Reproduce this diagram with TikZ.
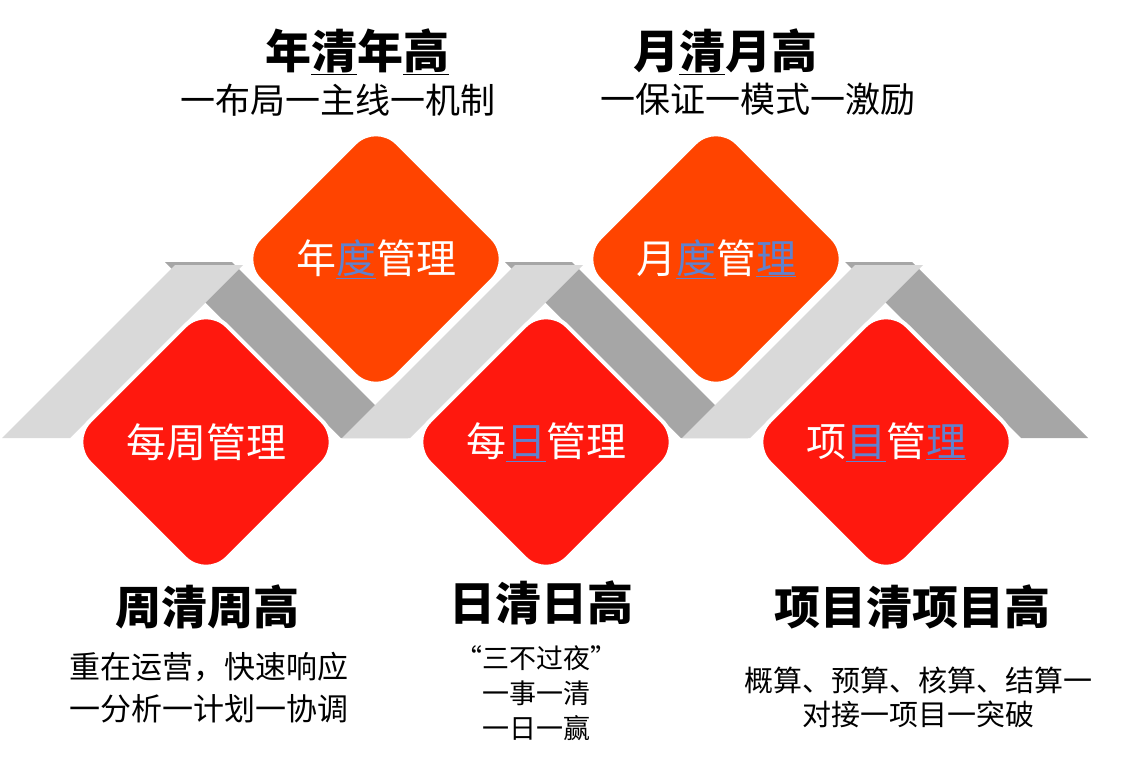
\documentclass[tikz,border=0pt]{standalone}
\usepackage{fontspec}
\newfontfamily\cjk{Noto Sans CJK SC}
\usetikzlibrary{shapes.geometric}

\definecolor{upfill}{RGB}{255,68,0}
\definecolor{lowfill}{RGB}{255,24,14}
\definecolor{bandlight}{RGB}{217,217,217}
\definecolor{banddark}{RGB}{166,166,166}
\definecolor{hlblue}{RGB}{96,130,206}
\newcommand{\hl}[1]{\textcolor{hlblue}{\underline{#1}}}

\begin{document}
\begin{tikzpicture}[
    x=1pt, y=-1pt,
    tile/.style={diamond, aspect=1, minimum width=276pt, minimum height=276pt,
                 inner sep=0pt, rounded corners=30pt, draw=white, line width=4pt,
                 text=white, font=\cjk\fontsize{40}{40}\selectfont},
    upper/.style={tile, fill=upfill},
    lower/.style={tile, fill=lowfill},
    title/.style={font=\cjk\bfseries\fontsize{46}{46}\selectfont},
    motto/.style={font=\cjk\fontsize{35}{35}\selectfont},
    note/.style={align=center, font=\cjk\fontsize{31}{42}\selectfont}
]
\useasboundingbox (0,0) rectangle (1138,764);

%% Nastri grigi
\foreach \x in {0,340,680} {
  \fill[banddark] (\x+165,262) -- (\x+232,262) -- (\x+408,438) -- (\x+341,438) -- cycle;
  \fill[bandlight] (\x+2,438) -- (\x+70,438) -- (\x+243,265) -- (\x+175,265) -- cycle;
}

%% Riquadri
\node[upper] (yearmgmt)  at (376,259) {年\hl{度}管理};
\node[upper] (monthmgmt) at (716,259) {月\hl{度}管\hl{理}};
\node[lower] (weekmgmt)  at (206,442) {每周管理};
\node[lower] (daymgmt)   at (546,442) {每\hl{日}管理};
\node[lower] (projmgmt)  at (886,442) {项\hl{目}管\hl{理}};

%% Titoli in alto
\node[title] (yeartitle)  at (357,52) {年\underline{清}年\underline{高}};
\node[motto] (yearmotto)  at (338,100) {一布局一主线一机制};
\node[title] (monthtitle) at (725,52) {月\underline{清}月高};
\node[motto] (monthmotto) at (758,99) {一保证一模式一激励};

%% Titoli in basso
\node[title] (weektitle) at (207,607) {周清周高};
\node[note]  (weeknote)  at (209,688) {重在运营，快速响应\\一分析一计划一协调};
\node[title] (daytitle)  at (541,603) {日清日高};
\node[note, font=\cjk\fontsize{27}{35}\selectfont]
      (daynote) at (536,693) {“三不过夜”\\一事一清\\一日一赢};
\node[title] (projtitle) at (912,607) {项目清项目高};
\node[note, font=\cjk\fontsize{29}{34}\selectfont]
      (projnote) at (918,697) {概算、预算、核算、结算一\\对接一项目一突破};

\end{tikzpicture}
\end{document}
